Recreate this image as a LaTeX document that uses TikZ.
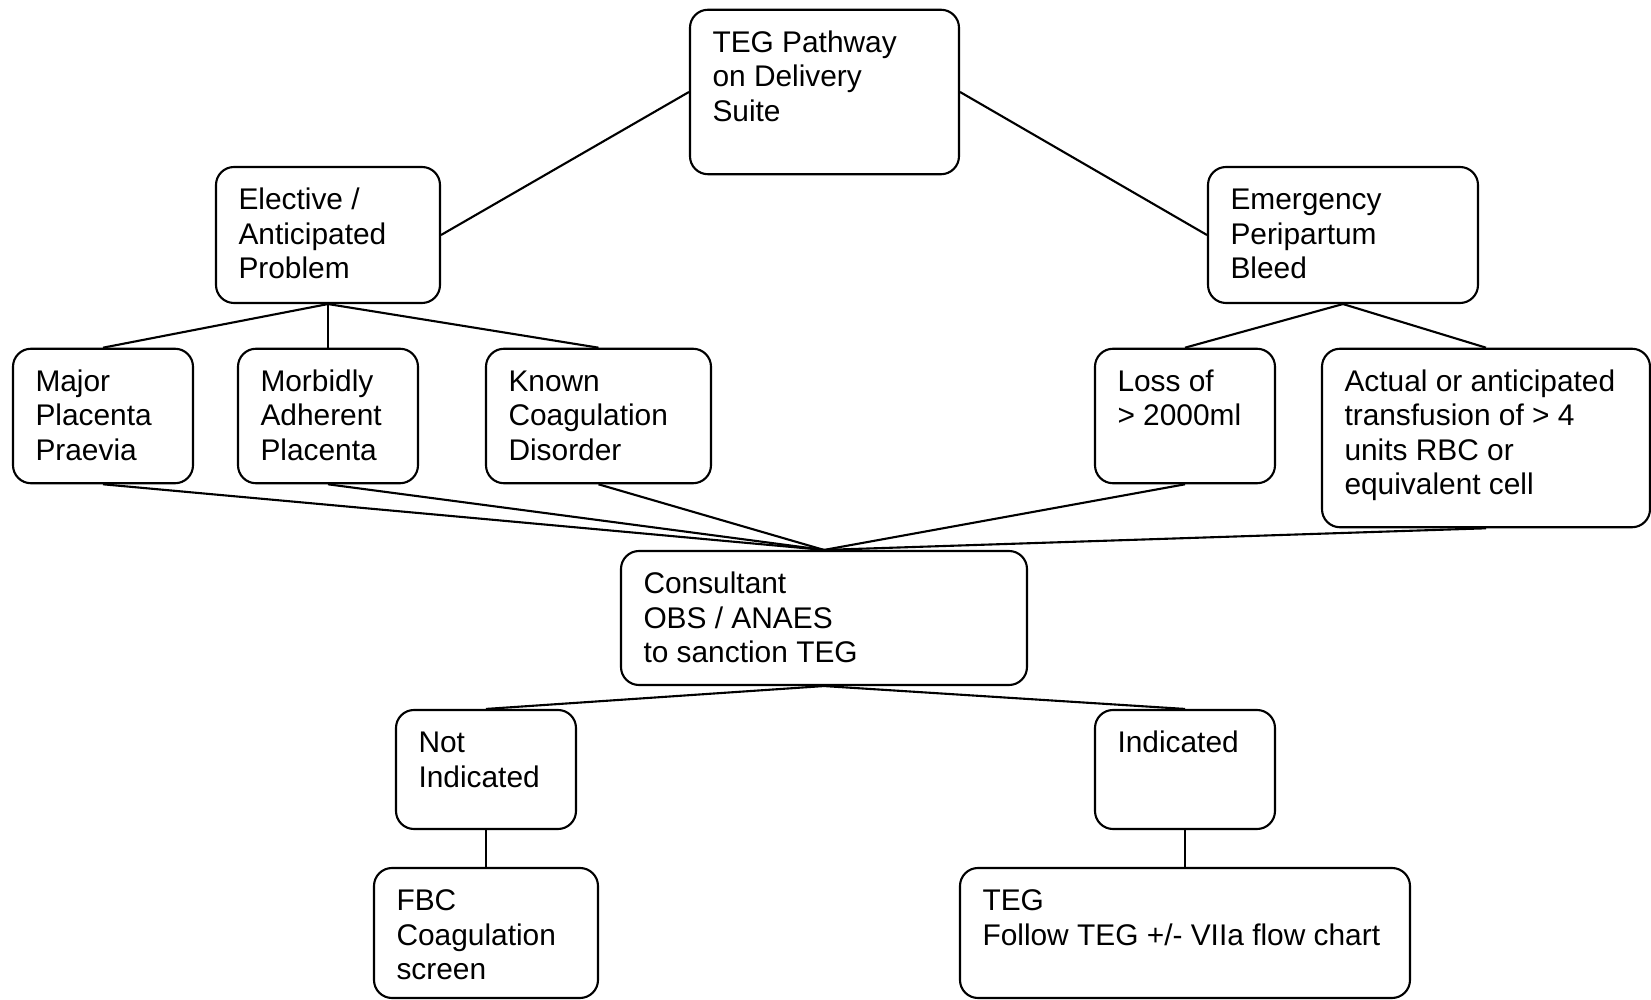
\documentclass[tikz,border=0pt]{standalone}
\usepackage{fontspec}
\setmainfont{Liberation Sans}
\newcommand{\boxtxt}[3]{\parbox[t][#2mm][t]{#1mm}{\raggedright\strut#3}}
\begin{document}
\begin{tikzpicture}
  [x=1mm,y=-1mm,line width=0.6pt,
   font=\fontsize{8.5}{9.8}\selectfont,
   every node/.style={draw,rounded corners=1.8mm,inner xsep=2.25mm,inner ysep=1.85mm}]
  \useasboundingbox (0,0) rectangle (165.1,100);

  \node (teg)        at (82.45,9.2)  {\boxtxt{22.4}{12.75}{TEG Pathway\\on Delivery\\Suite}};
  \node (elective)   at (32.8,23.5)  {\boxtxt{17.9}{9.9}{Elective /\\Anticipated\\Problem}};
  \node (emergency)  at (134.3,23.5) {\boxtxt{22.5}{9.9}{Emergency\\Peripartum\\Bleed}};
  \node (major)      at (10.3,41.6)  {\boxtxt{13.5}{9.75}{Major\\Placenta\\Praevia}};
  \node (morbid)     at (32.8,41.6)  {\boxtxt{13.5}{9.75}{Morbidly\\Adherent\\Placenta}};
  \node (known)      at (59.85,41.6) {\boxtxt{18.0}{9.75}{Known\\Coagulation\\Disorder}};
  \node (loss)       at (118.5,41.6) {\boxtxt{13.5}{9.75}{Loss of\\> 2000ml}};
  \node (actual)     at (148.6,43.8) {\boxtxt{28.3}{14.15}{Actual or anticipated\\transfusion of > 4\\units RBC or\\equivalent cell}};
  \node (consultant) at (82.4,61.8)  {\boxtxt{36.1}{9.7}{Consultant\\OBS / ANAES\\to sanction TEG}};
  \node (notind)     at (48.6,76.95) {\boxtxt{13.5}{8.2}{Not\\Indicated}};
  \node (ind)        at (118.5,76.95){\boxtxt{13.5}{8.2}{Indicated}};
  \node (fbc)        at (48.6,93.3)  {\boxtxt{17.9}{9.3}{FBC\\Coagulation\\screen}};
  \node (follow)     at (118.5,93.3) {\boxtxt{40.5}{9.3}{TEG\\Follow TEG +/- VIIa flow chart}};

  \draw (teg.west) -- (elective.east);
  \draw (teg.east) -- (emergency.west);

  \foreach \src/\dst in {elective/major,elective/morbid,elective/known,
                         emergency/loss,emergency/actual,
                         major/consultant,morbid/consultant,known/consultant,
                         loss/consultant,actual/consultant,
                         consultant/notind,consultant/ind,
                         notind/fbc,ind/follow}
    \draw (\src.south) -- (\dst.north);

\end{tikzpicture}
\end{document}
